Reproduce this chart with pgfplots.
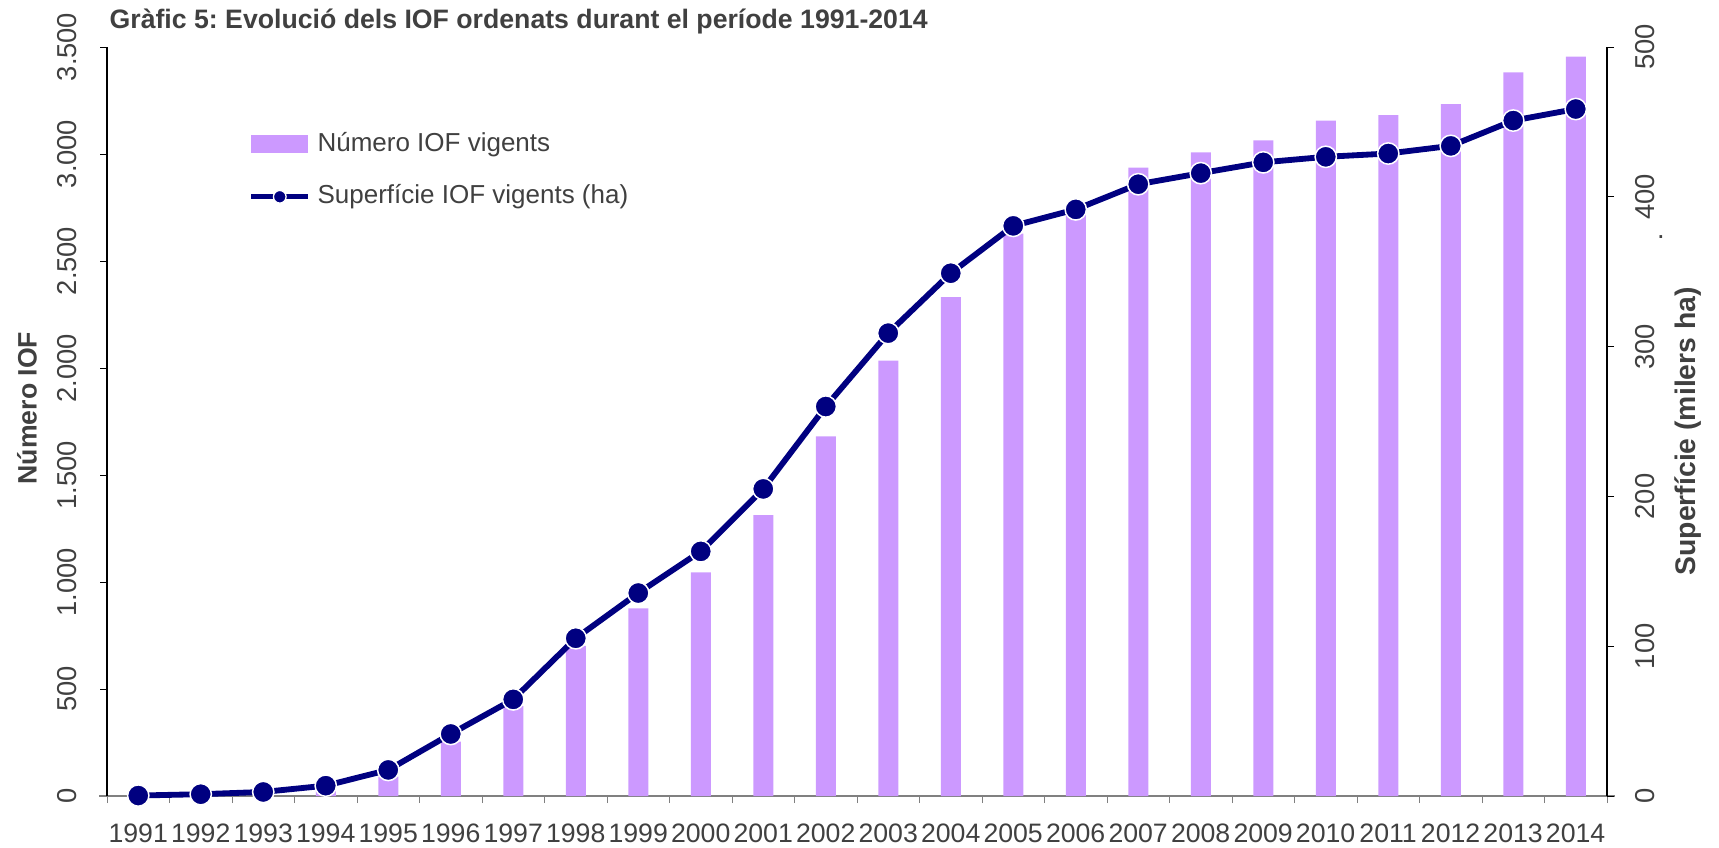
\documentclass[border=0pt]{standalone}
\usepackage{fontspec}
\setmainfont{Liberation Sans}
\usepackage{pgfplots}
\pgfplotsset{compat=1.18}
\frenchspacing

\definecolor{barfill}{HTML}{CC99FF}
\definecolor{navyline}{HTML}{000080}
\definecolor{txt}{HTML}{404040}

% 1 px of the reference = 0.3pt
\newcommand{\xticksize}{\fontsize{8pt}{9.6pt}\selectfont}
\newcommand{\yticksize}{\fontsize{8.2pt}{9.6pt}\selectfont}
\newcommand{\legsize}{\fontsize{7.8pt}{9pt}\selectfont}
\newcommand{\labsize}{\fontsize{8pt}{9.6pt}\selectfont}
\newcommand{\rlabsize}{\fontsize{8.5pt}{10pt}\selectfont}
\newcommand{\titlesize}{\fontsize{8pt}{9.6pt}\selectfont}

\pgfplotsset{
  base/.style={
    width=450pt, height=224.7pt, scale only axis,
    at={(0,0)}, anchor=south west,
    xmin=1990.5, xmax=2014.5,
    tick align=outside, major tick length=2.1pt,
    /pgf/number format/assume math mode=true,
    tick label style={text=txt},
    yticklabel style={font=\yticksize},
  },
}

\begin{document}
\begin{tikzpicture}
\path[use as bounding box] (-32.1pt,-15.3pt) rectangle (483.6pt,238.8pt);

% left axis: number of IOF (bars)
\begin{axis}[base,
  ymin=0, ymax=3500,
  axis x line*=bottom, axis y line*=left,
  x axis line style={-, draw=gray, shorten <=-2.4pt, shorten >=-2.4pt},
  y axis line style={-, draw=black},
  xtick={1991,...,2014},
  xticklabel style={font=\xticksize, /pgf/number format/1000 sep={}, anchor=north, inner sep=0pt, yshift=-6.1pt},
  major x tick style={draw=none},
  minor xtick={1990.5,1991.5,...,2014.5},
  minor tick length=2.1pt,
  minor x tick style={draw=gray},
  ytick={0,500,...,3500},
  y tick style={draw=black},
  yticklabel style={/pgf/number format/1000 sep={.}, xshift=-9.75pt, rotate=90, anchor=center, inner sep=0pt},
  ]
  \addplot[ybar, bar width=6pt, bar shift=0pt, fill=barfill, draw=none] coordinates {
    (1991,2) (1992,6) (1993,12) (1994,35) (1995,90) (1996,254) (1997,420)
    (1998,702) (1999,877) (2000,1045) (2001,1312) (2002,1681) (2003,2034)
    (2004,2331) (2005,2628) (2006,2720) (2007,2936) (2008,3008) (2009,3064)
    (2010,3156) (2011,3182) (2012,3233) (2013,3381) (2014,3455)};
\end{axis}

% right axis: surface (thousand ha)
\begin{axis}[base,
  ymin=0, ymax=500,
  axis y line*=right, axis x line=none,
  y axis line style={-, draw=black},
  ytick={0,100,...,500},
  y tick style={draw=black},
  yticklabel style={xshift=9.4pt, rotate=90, anchor=center, inner sep=0pt},
  clip=false,
  legend style={at={(rel axis cs:0.094,0.896)}, anchor=north west, draw=none, fill=none,
    inner sep=0pt, row sep=4.5pt, font=\legsize, text=txt,
    /tikz/every even column/.append style={column sep=0pt}},
  legend cell align=left,
  ]
  \addlegendimage{legend image code/.code={\fill[barfill] (0pt,-2.55pt) rectangle (16.8pt,2.55pt);}}
  \addlegendentry{Número IOF vigents}
  \addlegendimage{navyline, line width=1.6pt, mark=*, mark size=1.9pt,
    mark options={fill=navyline, draw=white, line width=0.4pt}}
  \addlegendentry{Superfície IOF vigents (ha)}

  \addplot[navyline, line width=1.75pt, mark=*, mark size=3.2pt,
    mark options={fill=navyline, draw=white, line width=0.45pt}, forget plot] coordinates {
    (1991,0.3) (1992,1.2) (1993,2.7) (1994,6.9) (1995,17.4) (1996,41.4) (1997,64.5)
    (1998,105.3) (1999,135.5) (2000,163.3) (2001,205) (2002,260) (2003,309)
    (2004,349) (2005,380.6) (2006,391.6) (2007,408.4) (2008,415.8) (2009,423)
    (2010,426.7) (2011,428.9) (2012,434) (2013,450.9) (2014,458.6)};

  \node[anchor=base west, inner sep=0pt, xshift=0.6pt, yshift=5.7pt, font=\titlesize\bfseries, text=txt]
    at (rel axis cs:0,1) {Gràfic 5: Evolució dels IOF ordenats durant el període 1991-2014};
  \node[xshift=-24pt, rotate=90, font=\labsize\bfseries, text=txt]
    at (rel axis cs:0,0.518) {Número IOF};
  \node[xshift=24.3pt, rotate=90, font=\rlabsize\bfseries, text=txt]
    at (rel axis cs:1,0.487) {Superfície (milers ha)};
  \node[xshift=16.2pt, font=\yticksize, text=txt, inner sep=0pt] at (rel axis cs:1,0.746) {.};
\end{axis}
\end{tikzpicture}
\end{document}
